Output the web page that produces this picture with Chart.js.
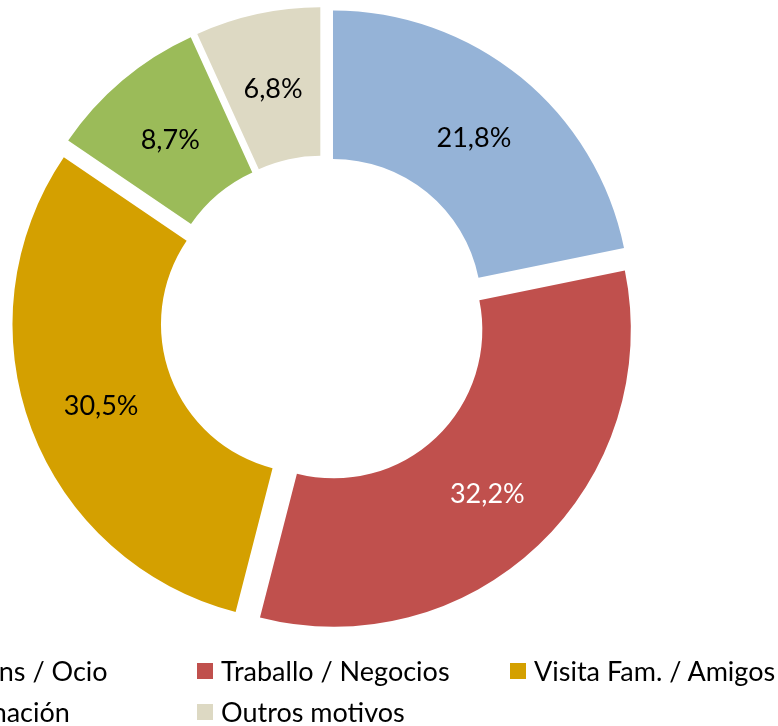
<!DOCTYPE html>
<html>
<head>
<meta charset="utf-8">
<script src="https://cdn.jsdelivr.net/npm/chart.js@4"></script>
<style>
  html, body { margin: 0; padding: 0; background: #fff; overflow: hidden; }
  #wrap { position: relative; width: 778px; height: 726px; overflow: hidden; }
  #chart { position: absolute; left: 0; top: 0; }
  #legend {
    position: absolute; left: -116px; top: 650px;
    display: grid; grid-template-columns: repeat(3, 313px); grid-auto-rows: 41px;
    font-family: Lato, "Noto Sans", sans-serif; font-size: 27px; color: #000;
  }
  .item { display: flex; align-items: center; white-space: nowrap; }
  .box { width: 16px; height: 16px; margin-right: 8px; flex: none; }
</style>
</head>
<body>
<div id="wrap">
  <canvas id="chart" width="778" height="726"></canvas>
  <div id="legend"></div>
</div>
<script>
const motivos = ["Vacacións / Ocio", "Traballo / Negocios", "Visita Fam. / Amigos", "Peregrinación", "Outros motivos"];
const porcentaxes = [21.8, 32.2, 30.5, 8.7, 6.8];
const cores = ["#95B3D7", "#C0504D", "#D4A000", "#9BBB59", "#DDD9C3"];
const coresEtiqueta = ["#000", "#fff", "#000", "#000", "#000"];

const explodeOffset = 15;

// separa cada porción do centro, como o gráfico de Excel
const explode = {
  id: "explode",
  afterDatasetsUpdate(chart) {
    const a = chart.chartArea;
    const cx = (a.left + a.right) / 2;
    const cy = (a.top + a.bottom) / 2;
    chart.getDatasetMeta(0).data.forEach((arc) => {
      const mid = (arc.startAngle + arc.endAngle) / 2;
      arc.x = cx + explodeOffset * Math.cos(mid);
      arc.y = cy + explodeOffset * Math.sin(mid);
    });
  }
};

const etiquetas = {
  id: "etiquetas",
  afterDatasetsDraw(chart) {
    const ctx = chart.ctx;
    ctx.save();
    ctx.font = "27px Lato, 'Noto Sans', sans-serif";
    ctx.textAlign = "center";
    ctx.textBaseline = "middle";
    chart.getDatasetMeta(0).data.forEach((arc, i) => {
      const p = arc.tooltipPosition();
      ctx.fillStyle = coresEtiqueta[i];
      ctx.fillText(porcentaxes[i].toFixed(1).replace(".", ",") + "%", p.x, p.y + 3);
    });
    ctx.restore();
  }
};

new Chart(document.getElementById("chart"), {
  type: "doughnut",
  data: {
    labels: motivos,
    datasets: [{
      data: porcentaxes,
      backgroundColor: cores,
      borderWidth: 0,
      clip: false
    }]
  },
  options: {
    responsive: false,
    animation: false,
    cutout: "50%",
    layout: { padding: { left: 26.5, right: 157.5, top: 22, bottom: 110 } },
    plugins: {
      legend: { display: false },
      tooltip: { enabled: false }
    }
  },
  plugins: [explode, etiquetas]
});

const legend = document.getElementById("legend");
motivos.forEach((m, i) => {
  const item = document.createElement("div");
  item.className = "item";
  const box = document.createElement("span");
  box.className = "box";
  box.style.background = cores[i];
  item.appendChild(box);
  item.appendChild(document.createTextNode(m));
  legend.appendChild(item);
});
</script>
</body>
</html>
